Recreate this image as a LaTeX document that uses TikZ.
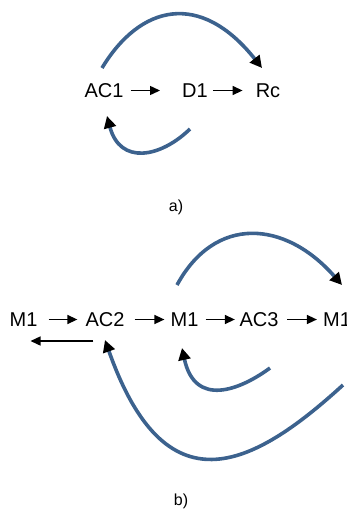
\documentclass[tikz,border=0pt]{standalone}
\usepackage{fontspec}
\setmainfont{Liberation Sans}
\usetikzlibrary{arrows.meta}
\definecolor{curveblue}{RGB}{60,98,142}
\tikzset{
  lbl/.style={inner sep=0pt, font=\fontsize{20}{24}\selectfont},
  captext/.style={inner sep=0pt, font=\fontsize{16}{19}\selectfont},
  flow/.style={line width=1.4pt, -{Triangle[length=10pt,width=9pt]}},
  loopcurve/.style={line width=3.6pt, curveblue, -{Triangle[length=12pt,width=12pt,color=black]}}
}
\begin{document}
\begin{tikzpicture}[x=1pt,y=-1pt]
\useasboundingbox (0,0) rectangle (347,512);
% part a
\node[lbl] (AC1) at (104,90.5) {AC1};
\node[lbl] (D1) at (195,90.5) {D1};
\node[lbl] (Rc) at (268,90.5) {Rc};
\node[captext] (la) at (176,207) {a)};
\draw[flow, shorten <=7pt, shorten >=22pt] (AC1) -- (D1);
\draw[flow, shorten <=5pt, shorten >=13pt] (D1) -- (Rc);
\coordinate (ta) at (102,68);
\coordinate (ta2) at (262,68);
\coordinate (ba) at (190,129);
\coordinate (ba2) at (107,116);
\draw[loopcurve] (ta) .. controls (140,5) and (200,-10) .. (ta2);
\draw[loopcurve] (ba) .. controls (160,158) and (120,165) .. (ba2);
% part b
\node[lbl] (M1a) at (23.5,319.5) {M1};
\node[lbl] (AC2) at (105,319.5) {AC2};
\node[lbl] (M1b) at (184.5,319.5) {M1};
\node[lbl] (AC3) at (259,319.5) {AC3};
\node[lbl] (M1c) at (337,319.5) {M1};
\node[captext] (lb) at (181,501) {b)};
\draw[flow, shorten <=11pt, shorten >=8pt] (M1a) -- (AC2);
\draw[flow, shorten <=10pt, shorten >=6pt] (AC2) -- (M1b);
\draw[flow, shorten <=7pt, shorten >=4.5pt] (M1b) -- (AC3);
\draw[flow, shorten <=8.5pt, shorten >=6pt] (AC3) -- (M1c);
\draw[flow] ([shift={(8,21.5)}]AC2.west) -- ([shift={(7,21.5)}]M1a.center);
\coordinate (tb) at (177,285);
\coordinate (tb2) at (342,285);
\coordinate (sb) at (270,368);
\coordinate (sb2) at (182,348);
\coordinate (lb1) at (343,385);
\coordinate (lb2) at (105,340);
\draw[loopcurve] (tb) .. controls (215,215) and (285,220) .. (tb2);
\draw[loopcurve] (sb) .. controls (240,390) and (195,408) .. (sb2);
\draw[loopcurve] (lb1) .. controls (250,470) and (165,510) .. (lb2);
\end{tikzpicture}
\end{document}
